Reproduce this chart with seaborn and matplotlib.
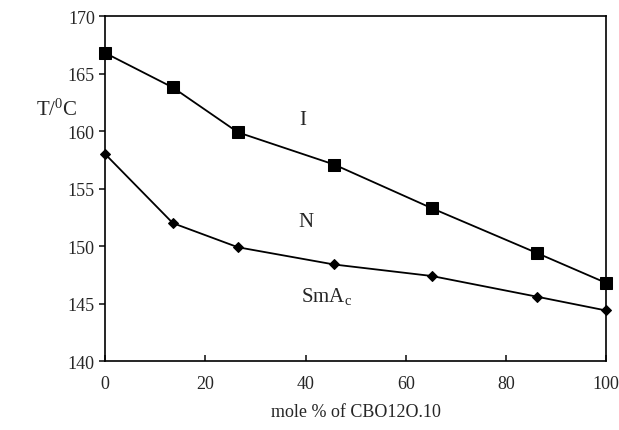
import matplotlib
matplotlib.use("Agg")
import matplotlib.pyplot as plt
import seaborn as sns
import pandas as pd

x_mole = [0, 13.5, 26.5, 45.7, 65.2, 86.2, 100]
t_iso = [166.8, 163.8, 159.9, 157.1, 153.3, 149.4, 146.8]
t_smectic = [158.0, 152.0, 149.9, 148.4, 147.4, 145.6, 144.4]
x_ticks = [0, 20, 40, 60, 80, 100]
y_ticks = [140, 145, 150, 155, 160, 165, 170]

sns.set_theme(style="ticks")
plt.rcParams['font.family'] = ['Liberation Serif', 'DejaVu Serif']
plt.rcParams['mathtext.fontset'] = 'custom'
plt.rcParams['mathtext.rm'] = 'Liberation Serif'
plt.rcParams['mathtext.it'] = 'Liberation Serif:italic'

df = pd.DataFrame({"x": x_mole, "iso": t_iso, "sm": t_smectic})

fig = plt.figure(figsize=(6.19, 4.31), dpi=100)
ax = fig.add_axes([0.170, 0.160, 0.809, 0.800])

sns.lineplot(data=df, x="x", y="iso", ax=ax, color="black", lw=1.3,
             marker="s", markersize=8, markeredgecolor="black", clip_on=False, zorder=5)
sns.lineplot(data=df, x="x", y="sm", ax=ax, color="black", lw=1.3,
             marker="D", markersize=5.5, markeredgecolor="black", clip_on=False, zorder=5)

ax.set_xlim(0, 100)
ax.set_ylim(140, 170)
ax.set_xticks(x_ticks)
ax.set_yticks(y_ticks)
ax.tick_params(axis="x", direction="in", labelsize=13, length=4, pad=10)
ax.tick_params(axis="y", direction="out", labelsize=13, length=4)
for s in ax.spines.values():
    s.set_linewidth(1.2)
    s.set_color("black")

ax.set_xlabel("mole % of CBO12O.10", fontsize=13, labelpad=8)
ax.set_ylabel("")
fig.text(0.058, 0.745, r"T/$^{\mathrm{0}}$C", fontsize=15, ha="left", va="center")

ax.text(39.5, 161.0, "I", fontsize=15, ha="center", va="center")
ax.text(40.0, 152.1, "N", fontsize=15, ha="center", va="center")
ax.text(39.0, 145.7, r"SmA$_\mathrm{c}$", fontsize=15, ha="left", va="center")

fig.savefig("out.png", dpi=100)
